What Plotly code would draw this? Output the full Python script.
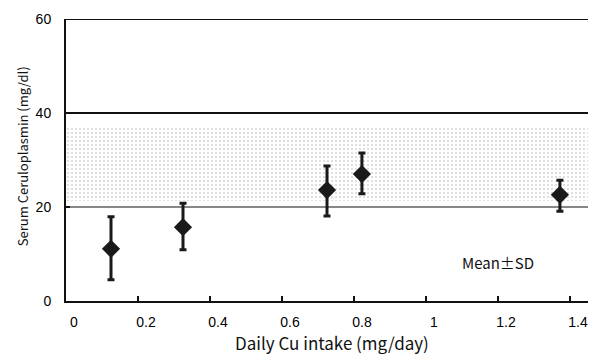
import plotly.graph_objects as go

# Data
intake = [0.125, 0.325, 0.725, 0.822, 1.372]
mean_cp = [11.1, 15.7, 23.6, 27.0, 22.6]
sd_plus = [6.8, 5.1, 5.1, 4.5, 3.1]
sd_minus = [6.6, 4.8, 5.5, 4.2, 3.5]
band_low = 21.3
band_high = 36.8
ref_lines = [20, 40, 60]
x_ticks = [0, 0.2, 0.4, 0.6, 0.8, 1.0, 1.2, 1.4]
x_tick_text = ["0", "0.2", "0.4", "0.6", "0.8", "1", "1.2", "1.4"]
y_ticks = [0, 20, 40, 60]

x_min, x_max = 0, 1.45
y_min, y_max = 0, 60

fig = go.Figure()

# Reference band (dotted)
fig.add_trace(go.Scatter(
    x=[x_min, x_max, x_max, x_min, x_min],
    y=[band_low, band_low, band_high, band_high, band_low],
    fill="toself", mode="none",
    fillcolor="white",
    fillpattern=dict(shape=".", size=4, solidity=0.22, fgcolor="#b0b0b0", bgcolor="white"),
    hoverinfo="skip", showlegend=False,
))

fig.add_trace(go.Scatter(
    x=intake, y=mean_cp, mode="markers",
    marker=dict(symbol="diamond", size=14, color="#1a1a1a"),
    error_y=dict(type="data", symmetric=False, array=sd_plus, arrayminus=sd_minus,
                 color="#1a1a1a", thickness=3, width=3.5),
    showlegend=False,
))

for yv in ref_lines:
    fig.add_shape(type="line", xref="x", yref="y", x0=x_min, x1=x_max, y0=yv, y1=yv,
                  line=dict(color="#111", width=1.2 if yv == 20 else 2), layer="below")

fig.add_annotation(x=1.2, y=8.1, text="Mean±SD", showarrow=False,
                   font=dict(family="Noto Sans CJK JP", size=15, color="#111"))

fig.add_annotation(xref="paper", yref="paper", x=-0.084, y=0.5,
                   text="Serum Ceruloplasmin (mg/dl)", textangle=-90, showarrow=False,
                   xanchor="center", yanchor="middle", yshift=4,
                   font=dict(family="Noto Sans CJK JP", size=13, color="#111"))

fig.add_annotation(xref="paper", yref="paper", x=0.51, y=-0.148,
                   text="Daily Cu intake (mg/day)", showarrow=False,
                   xanchor="center", yanchor="middle",
                   font=dict(family="Noto Sans CJK JP", size=17, color="#111"))

fig.update_layout(
    width=597, height=356,
    margin=dict(l=66, r=9, t=19, b=55),
    plot_bgcolor="white", paper_bgcolor="white",
    xaxis=dict(range=[x_min, x_max], tickvals=x_ticks, ticktext=x_tick_text,
               showgrid=False, zeroline=False, showline=True, linecolor="#111", linewidth=2,
               ticks="inside", ticklen=5, tickwidth=1.5, tickcolor="#111",
               ticklabelshift=8, ticklabelstandoff=7,
               tickfont=dict(family="Liberation Sans", size=14, color="#000")),
    yaxis=dict(range=[y_min, y_max], tickvals=y_ticks,
               showgrid=False, zeroline=False, showline=True, linecolor="#111", linewidth=2,
               ticks="inside", ticklen=4, tickwidth=1.5, tickcolor="#111",
               ticklabelstandoff=10,
               tickfont=dict(family="Liberation Sans", size=14, color="#000")),
)

fig.write_html("out.html")
